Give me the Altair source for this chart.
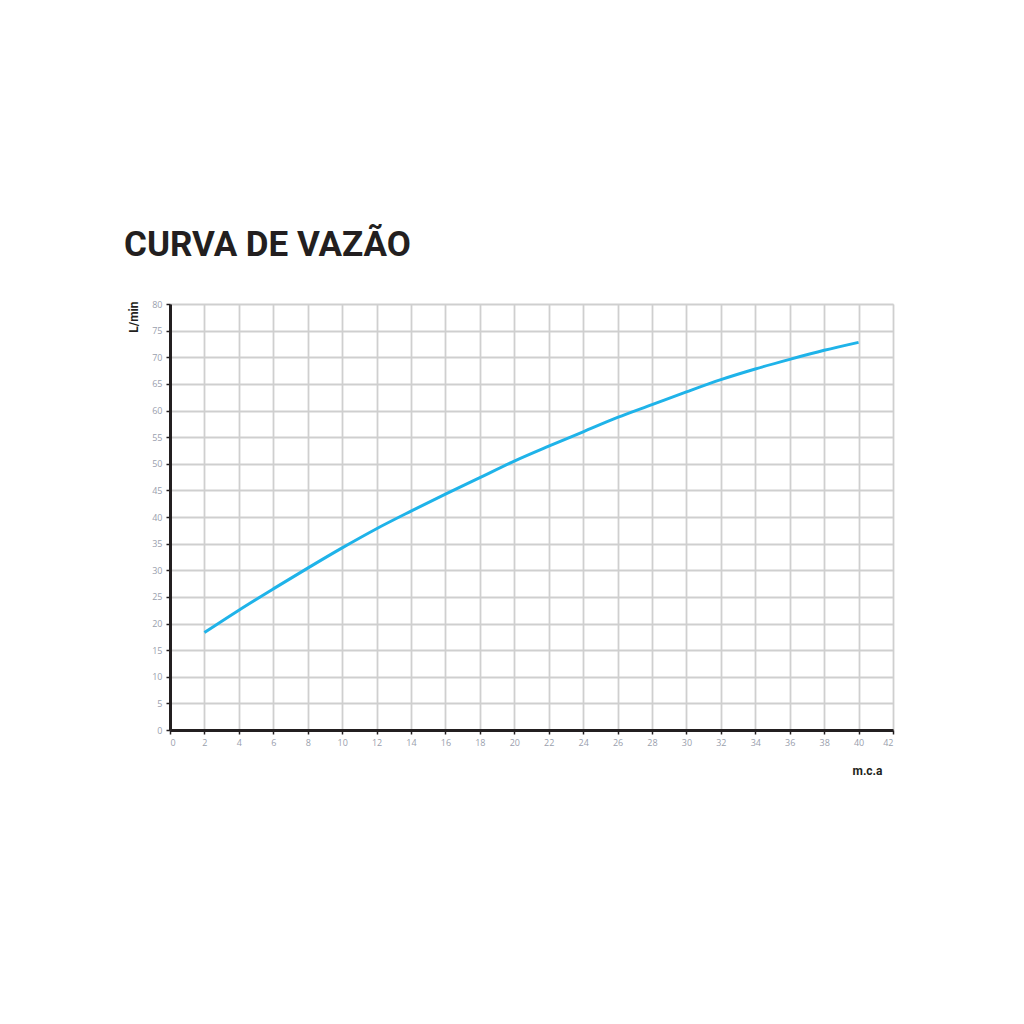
import altair as alt
import pandas as pd

# Data
pressure_mca = [2, 4, 6, 8, 10, 12, 14, 16, 18, 20, 22, 24, 26, 28, 30, 32, 34, 36, 38, 40]
flow_lmin = [18.3, 22.5, 26.5, 30.4, 34.2, 37.8, 41.1, 44.3, 47.4, 50.5,
             53.3, 56.0, 58.7, 61.1, 63.5, 65.8, 67.8, 69.6, 71.3, 72.8]
x_ticks = list(range(0, 43, 2))
y_ticks = list(range(0, 81, 5))

df = pd.DataFrame({"mca": pressure_mca, "lmin": flow_lmin})

COND = "Roboto, 'Liberation Sans', sans-serif"
LABEL_FONT = "'Open Sans', 'Liberation Sans', sans-serif"

chart = (
    alt.Chart(df)
    .mark_line(color="#1fb3e9", strokeWidth=3, interpolate="monotone")
    .encode(
        x=alt.X(
            "mca:Q",
            scale=alt.Scale(domain=[0, 42], nice=False, zero=False),
            axis=alt.Axis(
                values=x_ticks,
                title="m.c.a",
                titleFont=COND,
                titleFontSize=12,
                titleFontWeight="bold",
                titleColor="#231f20",
                titleAnchor="start",
                titleAlign="center",
                titleBaseline="alphabetic",
                titleX=697,
                titleY=44,
                labelFont=LABEL_FONT,
                labelFontSize=9,
                labelColor="#9aa0ad",
                labelPadding=4,
                tickSize=4,
                tickColor="#231f20",
                tickWidth=1.5,
                domainColor="#231f20",
                domainWidth=3,
                gridColor="#cfcfcf",
                gridWidth=1.8,
            ),
        ),
        y=alt.Y(
            "lmin:Q",
            scale=alt.Scale(domain=[0, 80], nice=False),
            axis=alt.Axis(
                values=y_ticks,
                title="L/min",
                titleFont=COND,
                titleFontSize=12,
                titleFontWeight="bold",
                titleColor="#231f20",
                titleAngle=-90,
                titleAlign="right",
                titleBaseline="alphabetic",
                titleX=-33,
                titleY=-3,
                labelFont=LABEL_FONT,
                labelFontSize=9,
                labelColor="#9aa0ad",
                labelPadding=4,
                tickSize=4,
                tickColor="#231f20",
                tickWidth=1.5,
                domainColor="#231f20",
                domainWidth=3,
                gridColor="#cfcfcf",
                gridWidth=1.8,
            ),
        ),
    )
    .properties(
        width=723,
        height=426,
        title=alt.TitleParams(
            text="CURVA DE VAZÃO",
            font=COND,
            fontSize=35,
            fontWeight="bold",
            color="#231f20",
            anchor="start",
            frame="group",
            baseline="alphabetic",
            dx=-46,
            offset=9,
        ),
        autosize=alt.AutoSizeParams(type="none"),
        padding={"left": 162, "top": 296, "right": 100, "bottom": 200},
    )
    .configure_view(stroke="#3a3a3a", strokeWidth=2)
    .configure(background="white")
)

chart.save("out.html", embed_options={"renderer": "svg", "actions": False})
